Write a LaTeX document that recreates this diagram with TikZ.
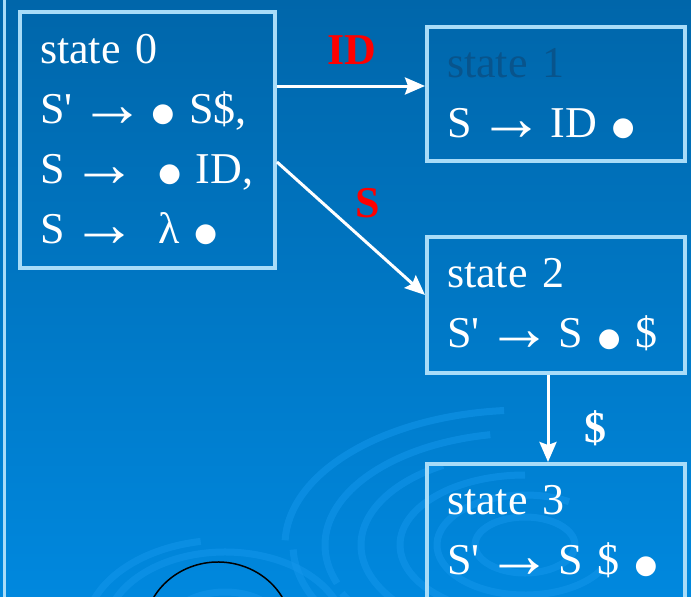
\documentclass[tikz,border=0pt]{standalone}
\usepackage{fontspec}
\setmainfont{Liberation Serif}[Ligatures=TeXOff]
\newfontfamily\dotfont{DejaVu Sans}
\usetikzlibrary{arrows.meta}

\definecolor{slidetop}{RGB}{0,102,170}
\definecolor{slidemid}{RGB}{0,112,190}
\definecolor{slidebot}{RGB}{0,136,222}
\definecolor{edgeblue}{RGB}{168,220,248}
\definecolor{ripple}{RGB}{20,150,235}
\definecolor{hiddentext}{RGB}{8,84,140}

\newcommand{\itemdot}{\raisebox{1.5pt}{\dotfont\fontsize{26}{26}\selectfont ●}}
\newcommand{\goesto}{\hspace{-8pt}\raisebox{-3pt}{\fontsize{66}{66}\selectfont →}\hspace{-8pt}}

\tikzset{
  statebox/.style={draw=edgeblue, line width=4pt, anchor=north west, align=left,
    inner xsep=20pt, text=white, font=\fontsize{44}{60}\selectfont},
  flow/.style={draw=white, line width=3pt, -{Stealth[length=20pt,width=17pt,inset=3pt]}},
  edgelab/.style={font=\bfseries\fontsize{44}{44}\selectfont, text=red},
  wave/.style={draw=ripple, opacity=0.55, line width=7pt}
}

\begin{document}
\begin{tikzpicture}[x=1pt, y=-1pt]
  \useasboundingbox (0,0) rectangle (691,597);
  \clip (0,0) rectangle (691,597);
  % Background
  \shade[top color=slidetop, middle color=slidemid, bottom color=slidebot]
    (0,0) rectangle (691,597);
  % Ripples (angles negative: y runs down)
  \foreach \rx/\ry/\a/\b in {240/135/95/178, 232/130/182/250, 200/112/100/200,
      202/114/205/330, 164/92/120/300, 125/70/90/250, 88/50/60/330, 50/28/0/360}
    \draw[wave] (525,545) ++({\rx*cos(-\a)},{\ry*sin(-\a)})
      arc[start angle=-\a, end angle=-\b, x radius=\rx, y radius=\ry];
  \foreach \rx/\ry/\a/\b in {140/92/100/175, 120/80/20/170, 60/40/10/170}
    \draw[wave] (225,632) ++({\rx*cos(-\a)},{\ry*sin(-\a)})
      arc[start angle=-\a, end angle=-\b, x radius=\rx, y radius=\ry];
  \draw[black, line width=1.5pt] (218,632) ++({74*cos(-25)},{70*sin(-25)})
    arc[start angle=-25, end angle=-158, x radius=74, y radius=70];
  % Left edge
  \draw[edgeblue, line width=3pt] (4.5,0) -- (4.5,597);
  % States
  \node[statebox, minimum width=255pt, minimum height=256pt, text width=215pt] (s0) at (18,10)
    {state 0\\\mbox{S' \goesto{} \itemdot{} S\$,}\\\mbox{S \goesto{} \ \itemdot{} ID,}\\\mbox{S \goesto{} \ λ \itemdot}};
  \node[statebox, minimum width=258pt, minimum height=134pt, text width=218pt] (s1) at (425,25)
    {\textcolor{hiddentext}{state 1}\\\mbox{S \goesto{} ID \itemdot}};
  \node[statebox, minimum width=258pt, minimum height=136pt, text width=218pt] (s2) at (425,235)
    {state 2\\\mbox{S' \goesto{} S \itemdot{} \$}};
  \node[statebox, minimum width=258pt, minimum height=136pt, text width=218pt] (s3) at (425,462)
    {state 3\\\mbox{S' \goesto{} S \$ \itemdot}};
  % Transitions
  \coordinate (idend) at ([yshift=8pt]s1.west);
  \coordinate (sbeg) at ([yshift=-22pt]s0.east);
  \coordinate (send) at ([yshift=10pt]s2.west);
  \draw[flow] (s0.east |- idend) -- (idend);
  \draw[flow] (sbeg) -- (send);
  \draw[flow] ([xshift=-8pt]s2.south) -- ([xshift=-8pt]s3.north);
  \node[edgelab] (lid) at (352,50) {ID};
  \node[edgelab] (ls) at (368,203) {S};
  \node[edgelab, text=white] (ldollar) at (595,428) {\$};
\end{tikzpicture}
\end{document}
